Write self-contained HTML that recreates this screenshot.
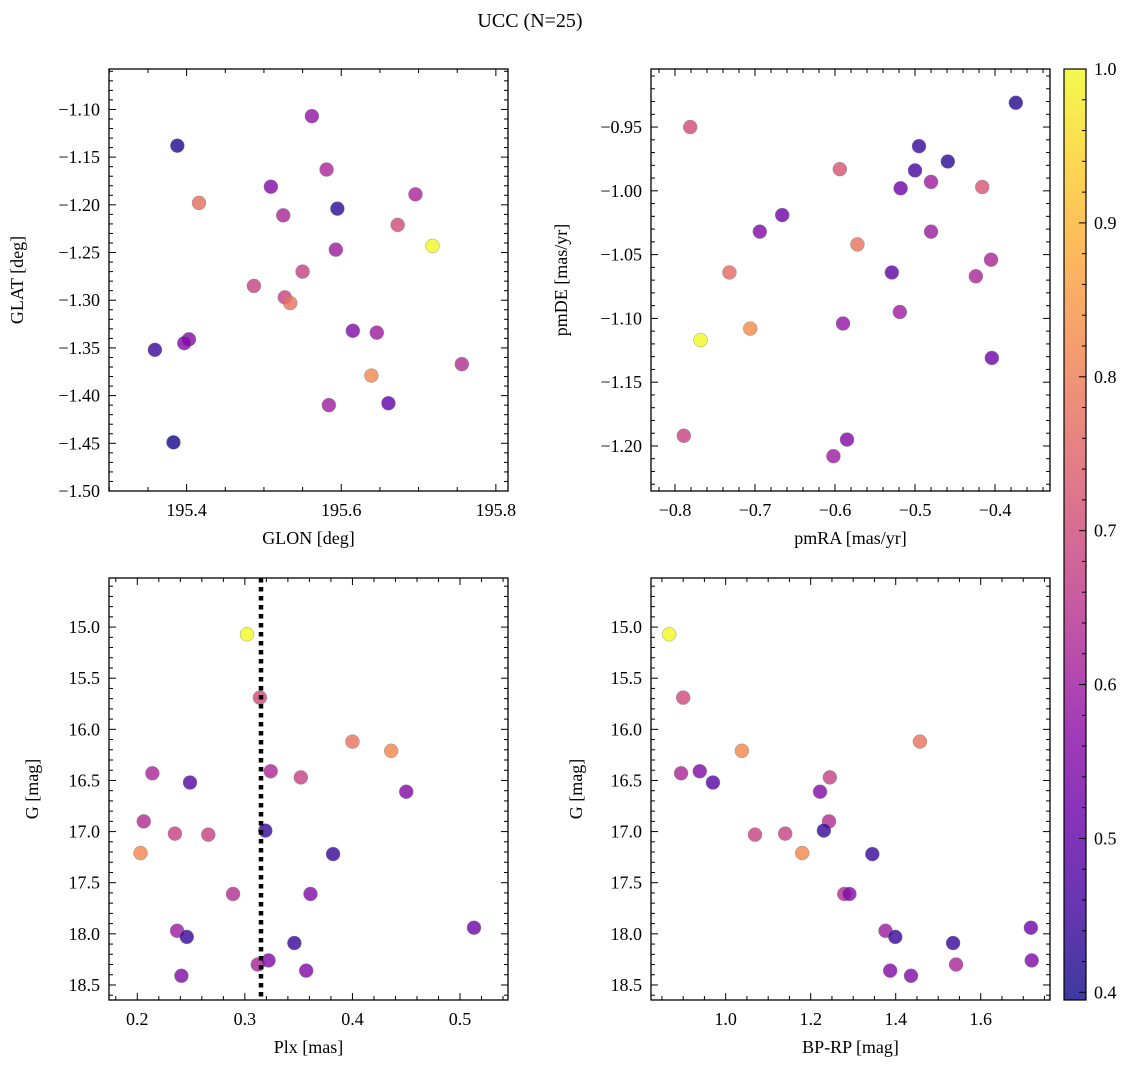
<!DOCTYPE html>
<html><head><meta charset="utf-8">
<style>
html,body{margin:0;padding:0;background:#fff;}
svg, svg text{font-family:"Liberation Serif","DejaVu Serif",serif;}
svg{display:block;}
</style></head>
<body>
<svg id="fig" width="1136" height="1068" viewBox="0 0 1136 1068" xmlns="http://www.w3.org/2000/svg">
<rect width="1136" height="1068" fill="#fff"/>
<text x="530" y="27" font-size="20" text-anchor="middle">UCC (N=25)</text>
<defs>
<linearGradient id="plasma" x1="0" y1="1" x2="0" y2="0"></linearGradient>
</defs>
</svg>
<script>
// ---- data ----
const glon=[195.562,195.388,195.509,195.416,195.581,195.595,195.525,195.673,195.696,195.718,195.593,195.550,195.487,195.527,195.534,195.615,195.646,195.403,195.397,195.359,195.639,195.756,195.584,195.661,195.383];
const glat=[-1.107,-1.138,-1.181,-1.198,-1.163,-1.204,-1.211,-1.221,-1.189,-1.243,-1.247,-1.270,-1.285,-1.297,-1.303,-1.332,-1.334,-1.341,-1.345,-1.352,-1.379,-1.367,-1.410,-1.408,-1.449];
const prob1=[0.58,0.42,0.55,0.77,0.62,0.43,0.62,0.70,0.62,1.0,0.60,0.68,0.68,0.68,0.78,0.55,0.60,0.55,0.55,0.45,0.82,0.64,0.60,0.50,0.40];
const pmra=[-0.374,-0.781,-0.495,-0.459,-0.500,-0.594,-0.480,-0.518,-0.416,-0.666,-0.694,-0.480,-0.572,-0.405,-0.732,-0.529,-0.424,-0.519,-0.590,-0.706,-0.768,-0.404,-0.789,-0.585,-0.602];
const pmde=[-0.931,-0.950,-0.965,-0.977,-0.984,-0.983,-0.993,-0.998,-0.997,-1.019,-1.032,-1.032,-1.042,-1.054,-1.064,-1.064,-1.067,-1.095,-1.104,-1.108,-1.117,-1.131,-1.192,-1.195,-1.208];
const prob2=[0.42,0.70,0.44,0.43,0.46,0.72,0.60,0.52,0.72,0.52,0.55,0.60,0.78,0.62,0.76,0.50,0.62,0.60,0.58,0.83,1.0,0.52,0.68,0.55,0.60];
const plx=[0.302,0.314,0.400,0.436,0.214,0.324,0.352,0.249,0.450,0.206,0.235,0.266,0.319,0.203,0.382,0.289,0.361,0.237,0.246,0.513,0.346,0.312,0.322,0.357,0.241];
const gmag3=[15.07,15.69,16.12,16.21,16.43,16.41,16.47,16.52,16.61,16.90,17.02,17.03,16.99,17.21,17.22,17.61,17.61,17.97,18.03,17.94,18.09,18.30,18.26,18.36,18.41];
const prob3=[1.0,0.70,0.78,0.82,0.62,0.62,0.68,0.48,0.55,0.64,0.68,0.68,0.44,0.82,0.44,0.64,0.55,0.60,0.44,0.52,0.44,0.62,0.55,0.55,0.55];
const bprp=[0.867,0.900,0.895,0.939,0.970,1.038,1.457,1.245,1.222,1.243,1.231,1.069,1.140,1.180,1.345,1.279,1.291,1.376,1.399,1.718,1.535,1.542,1.720,1.387,1.436];
const gmag4=[15.07,15.69,16.43,16.41,16.52,16.21,16.12,16.47,16.61,16.90,16.99,17.03,17.02,17.21,17.22,17.61,17.61,17.97,18.03,17.94,18.09,18.30,18.26,18.36,18.41];
const prob4=[1.0,0.70,0.62,0.55,0.48,0.82,0.78,0.68,0.55,0.64,0.44,0.68,0.68,0.82,0.44,0.64,0.55,0.60,0.44,0.52,0.44,0.62,0.55,0.55,0.55];
const cbTicks=["0.4","0.5","0.6","0.7","0.8","0.9","1.0"];
const plxLine=[0.315];

const NS="http://www.w3.org/2000/svg";
const svg=document.getElementById('fig');
function mk(tag,attrs,parent){const e=document.createElementNS(NS,tag);for(const k in attrs)e.setAttribute(k,attrs[k]);(parent||svg).appendChild(e);return e;}
const stops=[[13,8,135],[65,4,157],[106,0,168],[143,13,164],[177,42,144],[204,71,120],[225,100,98],[242,132,75],[252,166,54],[252,206,37],[240,249,33]];
function plasma(t){t=Math.max(0,Math.min(1,t));const f=t*10,i=Math.min(9,Math.floor(f)),r=f-i;const a=stops[i],b=stops[i+1];return 'rgb('+a.map((v,k)=>Math.round(v+(b[k]-v)*r)).join(',')+')';}
const CMIN=0.395,CMAX=1.0;
function cmap(v){return plasma((v-CMIN)/(CMAX-CMIN));}

function fmt(v,d){let s=v.toFixed(d);if(v<0)s='\u2212'+s.slice(1);return s;}
const FS=18;

function panel(o){
  const g=mk('g',{});
  
  
  const X=v=>o.x0+(v-o.xmin)/(o.xmax-o.xmin)*(o.x1-o.x0);
  const Y=o.yinv? v=>o.y0+(v-o.ymin)/(o.ymax-o.ymin)*(o.y1-o.y0) : v=>o.y1-(v-o.ymin)/(o.ymax-o.ymin)*(o.y1-o.y0);
  for(let i=0;i<o.xs.length;i++){
    const c=mk('circle',{cx:X(o.xs[i]),cy:Y(o.ys[i]),r:7,fill:cmap(o.cs[i]),'fill-opacity':0.8,stroke:'#888','stroke-width':0.4},g);
    
    
  }
  if(o.vline){o.vline.forEach(v=>{const l=mk('line',{x1:X(v),x2:X(v),y1:o.y0,y2:o.y1,stroke:'#000','stroke-width':4.5,'stroke-dasharray':'4.5 4.5'},g);
    
    });}
  const eps=1e-9;
  for(let v=Math.ceil(o.xmin/o.xmn-eps)*o.xmn;v<=o.xmax+eps;v+=o.xmn){
    const px=X(v);const maj=Math.abs(v/o.xmj-Math.round(v/o.xmj))<1e-6;const L=maj?7:4;
    mk('line',{x1:px,x2:px,y1:o.y1,y2:o.y1-L,stroke:'#000','stroke-width':1},g);
    mk('line',{x1:px,x2:px,y1:o.y0,y2:o.y0+L,stroke:'#000','stroke-width':1},g);
    if(maj){const t=mk('text',{x:px,y:o.y1+25,'font-size':FS,'text-anchor':'middle'},g);t.textContent=fmt(v,o.xd);
      
      }
  }
  for(let v=Math.ceil(o.ymin/o.ymn-eps)*o.ymn;v<=o.ymax+eps;v+=o.ymn){
    const py=Y(v);const maj=Math.abs(v/o.ymj-Math.round(v/o.ymj))<1e-6;const L=maj?7:4;
    mk('line',{x1:o.x0,x2:o.x0+L,y1:py,y2:py,stroke:'#000','stroke-width':1},g);
    mk('line',{x1:o.x1,x2:o.x1-L,y1:py,y2:py,stroke:'#000','stroke-width':1},g);
    if(maj){const t=mk('text',{x:o.x0-9,y:py+6,'font-size':FS,'text-anchor':'end'},g);t.textContent=fmt(v,o.yd);
      
      }
  }
  const fr=mk('rect',{x:o.x0,y:o.y0,width:o.x1-o.x0,height:o.y1-o.y0,fill:'none',stroke:'#000','stroke-width':1.3},g);
  
  
  const xl=mk('text',{x:(o.x0+o.x1)/2,y:o.y1+53,'font-size':FS,'text-anchor':'middle'},g);xl.textContent=o.xlabel;
  
  
  const yl=mk('text',{x:0,y:0,'font-size':FS,'text-anchor':'middle',transform:'translate('+o.ylx+','+((o.y0+o.y1)/2)+') rotate(-90)'},g);yl.textContent=o.ylabel;
  
  
}
panel({name:'glon-glat-panel',x0:109,x1:508,y0:69,y1:491,xmin:195.2996,xmax:195.8157,ymin:-1.50,ymax:-1.0576,xmj:0.2,xmn:0.05,ymj:0.05,ymn:0.01,xd:1,yd:2,xs:glon,ys:glat,cs:prob1,xlabel:'GLON [deg]',ylabel:'GLAT [deg]',ylx:23});
panel({name:'pm-panel',x0:651,x1:1050,y0:69,y1:491,xmin:-0.83,xmax:-0.3313,ymin:-1.2353,ymax:-0.9045,xmj:0.1,xmn:0.02,ymj:0.05,ymn:0.01,xd:1,yd:2,xs:pmra,ys:pmde,cs:prob2,xlabel:'pmRA [mas/yr]',ylabel:'pmDE [mas/yr]',ylx:567});
panel({name:'plx-g-panel',x0:109,x1:508,y0:578,y1:1000,xmin:0.1737,xmax:0.5446,ymin:14.52,ymax:18.647,yinv:true,xmj:0.1,xmn:0.02,ymj:0.5,ymn:0.1,xd:1,yd:1,xs:plx,ys:gmag3,cs:prob3,vline:plxLine,xlabel:'Plx [mas]',ylabel:'G [mag]',ylx:38});
panel({name:'cmd-panel',x0:651,x1:1050,y0:578,y1:1000,xmin:0.8243,xmax:1.763,ymin:14.52,ymax:18.647,yinv:true,xmj:0.2,xmn:0.05,ymj:0.5,ymn:0.1,xd:1,yd:1,xs:bprp,ys:gmag4,cs:prob4,xlabel:'BP-RP [mag]',ylabel:'G [mag]',ylx:582});

const grad=document.getElementById('plasma');
for(let i=0;i<=10;i++){mk('stop',{offset:(i/10),'stop-color':plasma(i/10)},grad);}
const cb=mk('g',{});


const cx0=1064,cx1=1086,cy0=69,cy1=1000;
const CY=v=>cy1-(v-CMIN)/(CMAX-CMIN)*(cy1-cy0);
mk('rect',{x:cx0,y:cy0,width:cx1-cx0,height:cy1-cy0,fill:'url(#plasma)','fill-opacity':0.8},cb);
mk('rect',{x:cx0,y:cy0,width:cx1-cx0,height:cy1-cy0,fill:'none',stroke:'#000','stroke-width':1.2},cb);
for(let k=0;k<=30;k++){const v=0.40+k*0.02;if(v>CMAX+1e-9)break;const maj=k%5===0;
  mk('line',{x1:cx1,x2:cx1-(maj?7:4),y1:CY(v),y2:CY(v),stroke:'#000','stroke-width':1},cb);}
cbTicks.forEach(s=>{const v=parseFloat(s);const t=mk('text',{x:cx1+8,y:CY(v)+6,'font-size':FS},cb);t.textContent=s;
  
  });
</script>
</body></html>
